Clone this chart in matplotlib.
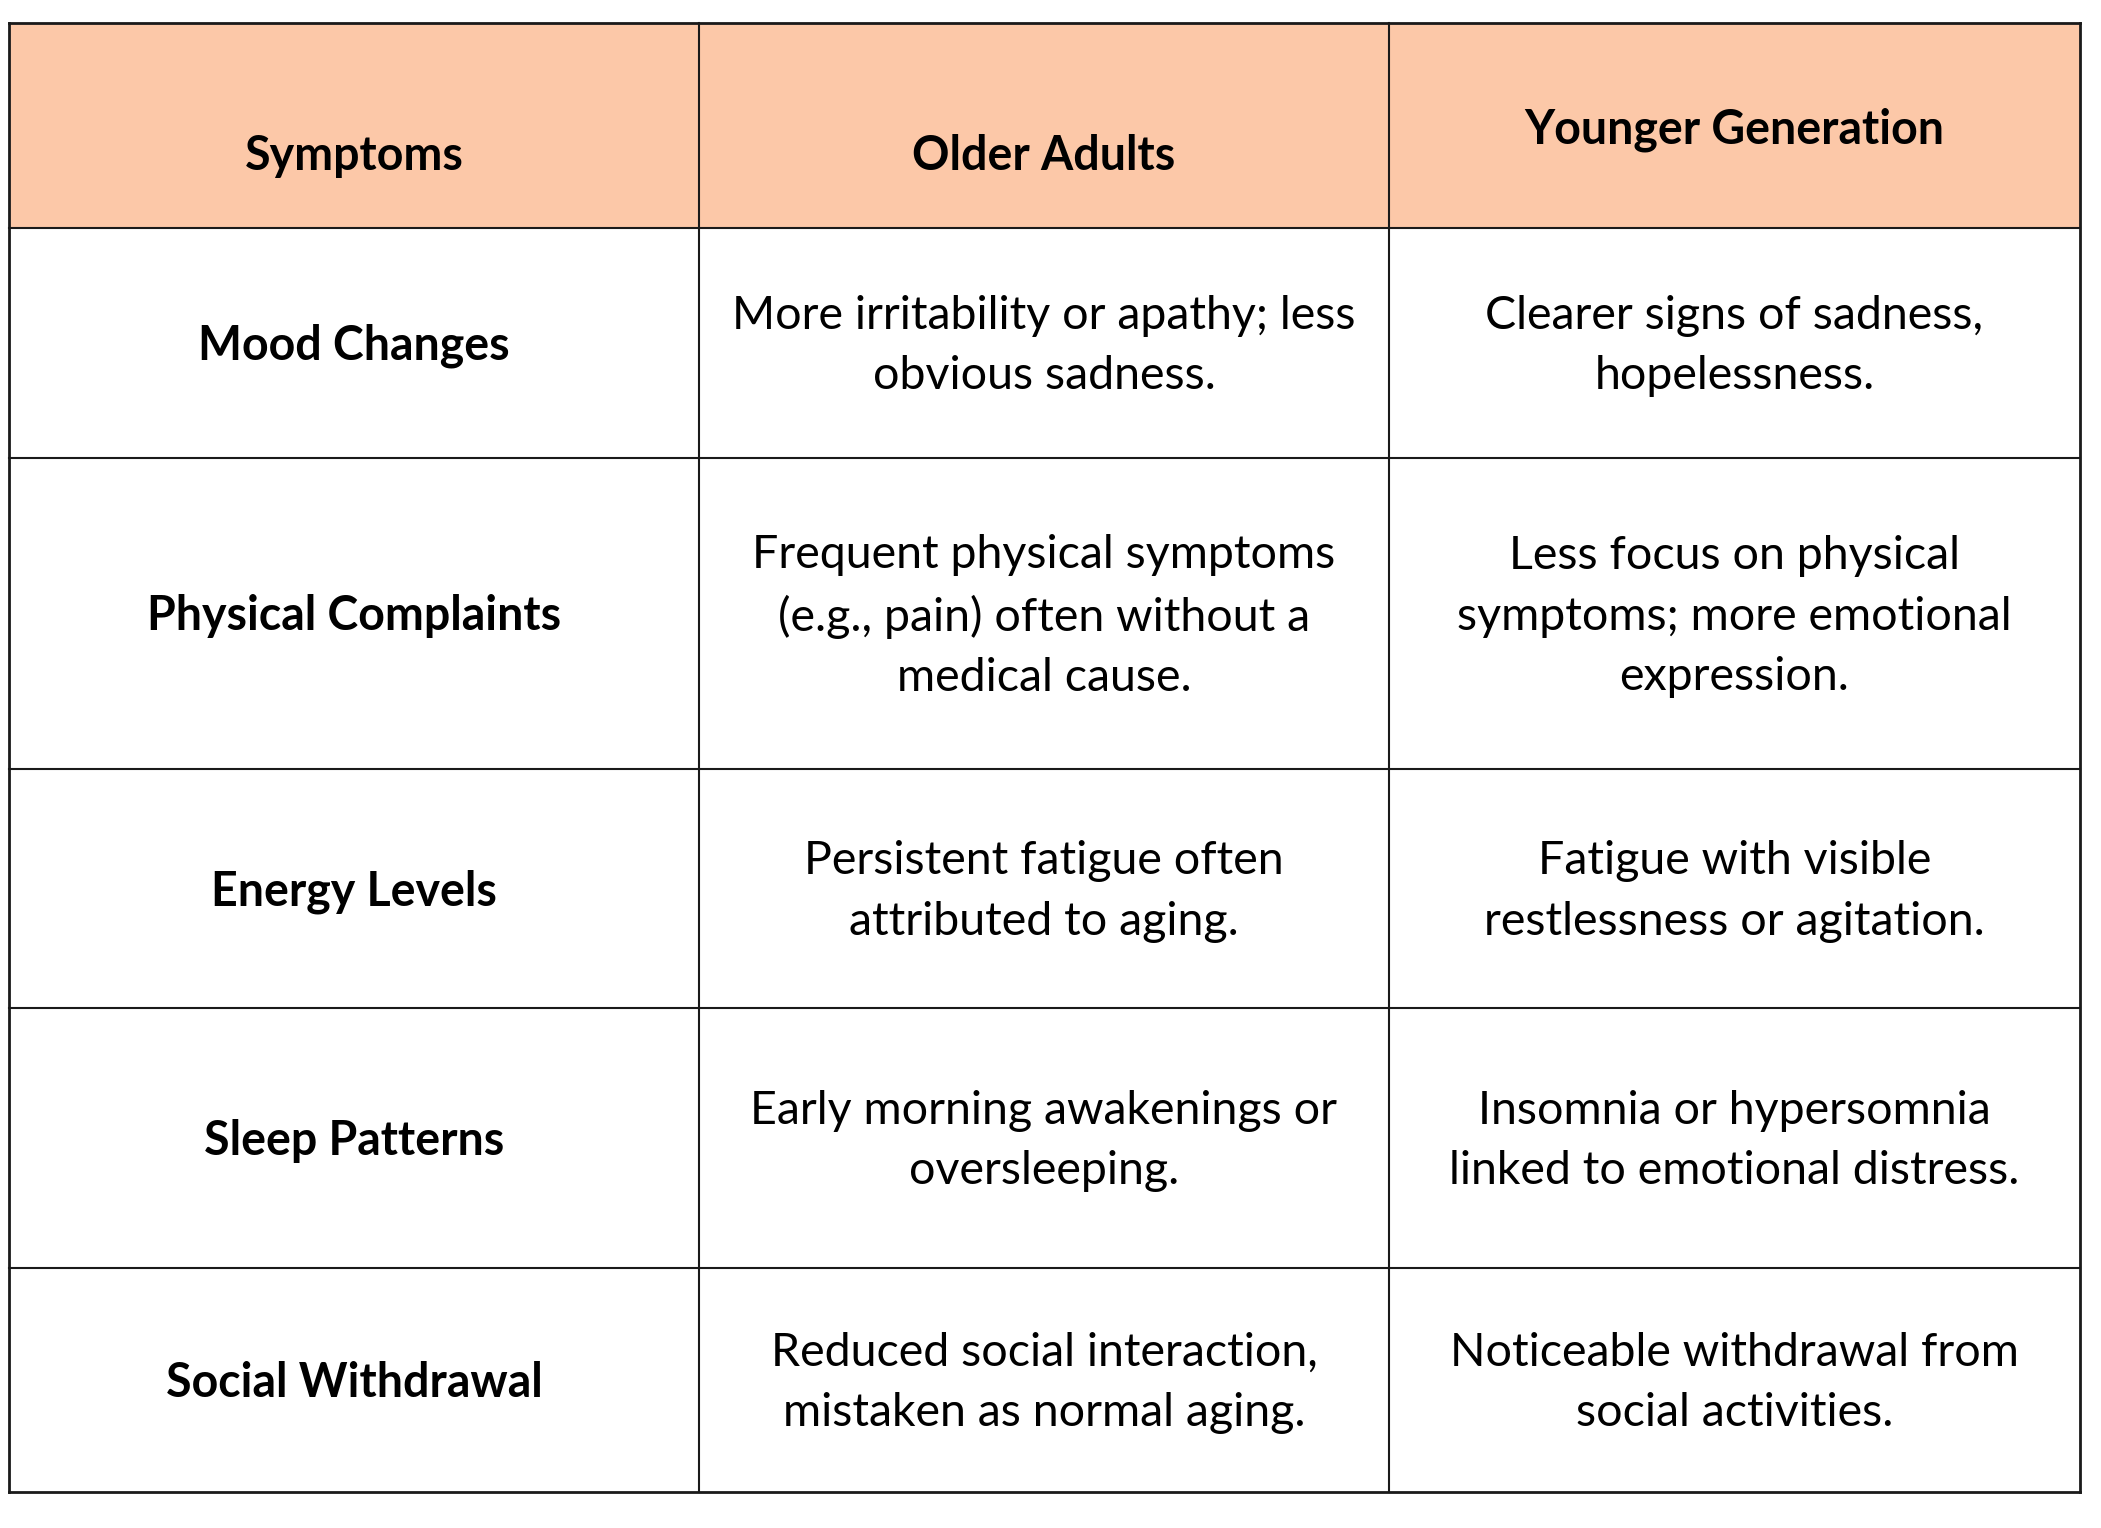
import matplotlib.pyplot as plt
from matplotlib.patches import Rectangle

plt.rcParams['font.family'] = ['Lato', 'DejaVu Sans']

# table contents
headers = ['Symptoms', 'Older Adults', 'Younger Generation']
symptoms = ['Mood Changes', 'Physical Complaints', 'Energy Levels',
            'Sleep Patterns', 'Social Withdrawal']
older_adults = [
    'More irritability or apathy; less\nobvious sadness.',
    'Frequent physical symptoms\n(e.g., pain) often without a\nmedical cause.',
    'Persistent fatigue often\nattributed to aging.',
    'Early morning awakenings or\noversleeping.',
    'Reduced social interaction,\nmistaken as normal aging.',
]
younger_generation = [
    'Clearer signs of sadness,\nhopelessness.',
    'Less focus on physical\nsymptoms; more emotional\nexpression.',
    'Fatigue with visible\nrestlessness or agitation.',
    'Insomnia or hypersomnia\nlinked to emotional distress.',
    'Noticeable withdrawal from\nsocial activities.',
]

# layout in pixels
W, H = 2101, 1528
col_edges = [9, 699, 1389, 2080]
row_edges = [23, 228, 458, 769, 1008, 1268, 1492]
header_y = [156, 156, 130]
header_color = '#FCC8A8'
line_color = '#1a1a1a'
fs = 33.5

fig = plt.figure(figsize=(W / 100, H / 100), dpi=100)
ax = fig.add_axes([0, 0, 1, 1])
ax.set_xlim(0, W)
ax.set_ylim(H, 0)
ax.axis('off')

# header background
ax.add_patch(Rectangle((col_edges[0], row_edges[0]), col_edges[-1] - col_edges[0],
                       row_edges[1] - row_edges[0], facecolor=header_color,
                       edgecolor='none', zorder=1))

# grid lines
for x in col_edges:
    lw = 2.0 if x in (col_edges[0], col_edges[-1]) else 1.5
    ax.plot([x, x], [row_edges[0], row_edges[-1]], color=line_color, lw=lw, zorder=3)
for y in row_edges:
    lw = 2.0 if y in (row_edges[0], row_edges[-1]) else 1.5
    ax.plot([col_edges[0], col_edges[-1]], [y, y], color=line_color, lw=lw, zorder=3)

centers = [(col_edges[i] + col_edges[i + 1]) / 2 for i in range(3)]

for i, h in enumerate(headers):
    ax.text(centers[i], header_y[i], h, ha='center', va='center',
            fontsize=fs, fontweight='bold', color='black', zorder=4)

columns = [symptoms, older_adults, younger_generation]
for r in range(len(symptoms)):
    yc = (row_edges[r + 1] + row_edges[r + 2]) / 2 + 3
    for c, col in enumerate(columns):
        ax.text(centers[c], yc, col[r], ha='center', va='center',
                fontsize=fs, fontweight='bold' if c == 0 else 'normal',
                color='black', linespacing=1.53, zorder=4)

fig.savefig('out.png', dpi=100, facecolor='white')
